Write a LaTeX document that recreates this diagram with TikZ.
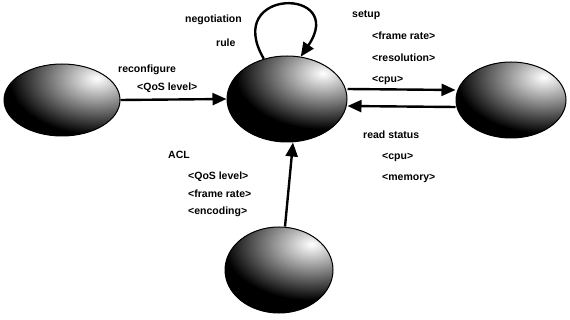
\documentclass[tikz,border=0pt]{standalone}
\usepackage{fontspec}
\setmainfont{Liberation Sans}
\usetikzlibrary{shapes.geometric,arrows.meta,calc}
\tikzset{
  blob/.style={ellipse, draw=black, line width=1pt, inner sep=0pt,
    path picture={
      \fill[black] (path picture bounding box.south west) rectangle (path picture bounding box.north east);
      \shade[inner color=white, outer color=black]
        ($(path picture bounding box.center)!0.6!(path picture bounding box.north east)$) ellipse (88pt and 56pt);
    }},
  lbl/.style={anchor=west, inner sep=0pt, font=\fontsize{10.5}{12}\selectfont\bfseries},
  conn/.style={line width=2.4pt, -{Triangle[length=14pt,width=12pt]}},
}
\begin{document}
\begin{tikzpicture}[x=1pt,y=-1pt]
\useasboundingbox[fill=white] (0,0) rectangle (570,320);
% ellipses
\node[blob, minimum width=116pt, minimum height=72pt] (L) at (62,100) {};
\node[blob, minimum width=120pt, minimum height=86pt] (C) at (287,99) {};
\node[blob, minimum width=110pt, minimum height=76pt] (R) at (511,100) {};
\node[blob, minimum width=108pt, minimum height=86pt] (B) at (279,270) {};
% connectors
\draw[conn] (L.east) -- (C.west);
\draw[conn] ([yshift=10pt]C.east) -- ([yshift=10pt]R.west);
\draw[conn] ([yshift=-7pt]R.west) -- ([yshift=-7pt]C.east);
\draw[conn] ([xshift=6pt]B.north) -- ([xshift=6pt]C.south);
\draw[conn] (C.120) .. controls (222,-13) and (348,-13) .. (C.72);
% labels
\node[lbl] (n1) at (185,20) {negotiation};
\node[lbl] (n2) at (216,43) {rule};
\node[lbl] (r1) at (118,70) {reconfigure};
\node[lbl] (r2) at (137,88) {<QoS level>};
\node[lbl] (s1) at (352,15) {setup};
\node[lbl] (s2) at (372,36) {<frame rate>};
\node[lbl] (s3) at (372,58) {<resolution>};
\node[lbl] (s4) at (372,80) {<cpu>};
\node[lbl] (t1) at (363,135) {read status};
\node[lbl] (t2) at (382,157) {<cpu>};
\node[lbl] (t3) at (382,178) {<memory>};
\node[lbl] (a1) at (168,155) {ACL};
\node[lbl] (a2) at (188,177) {<QoS level>};
\node[lbl] (a3) at (188,194) {<frame rate>};
\node[lbl] (a4) at (188,212) {<encoding>};
\end{tikzpicture}
\end{document}
